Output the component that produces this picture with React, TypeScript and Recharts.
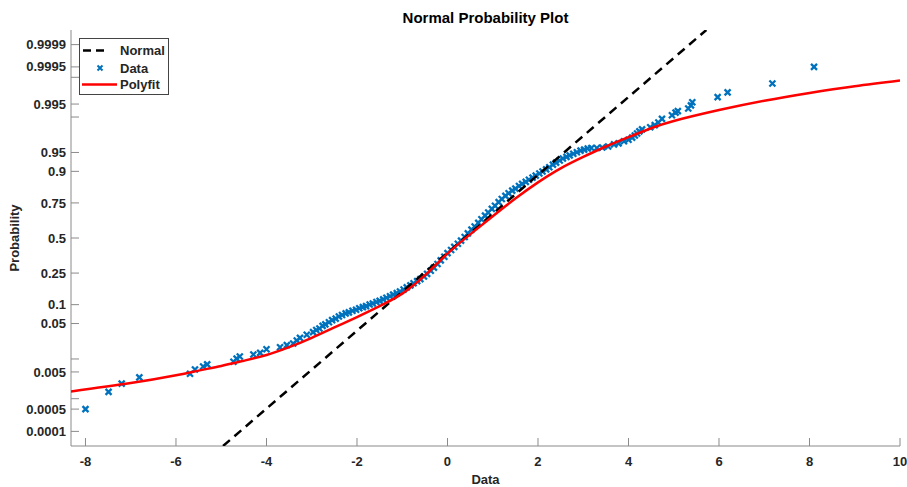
import { ScatterChart, Scatter, XAxis, YAxis, Label } from "recharts";

// probability ticks on the y axis (plotted at their normal quantile)
const probTicks = [
  0.0001, 0.0005, 0.001, 0.005, 0.01, 0.05, 0.1, 0.25, 0.5, 0.75, 0.9, 0.95,
  0.99, 0.995, 0.999, 0.9995, 0.9999,
];
const probLabels = [
  "0.0001", "0.0005", "", "0.005", "", "0.05", "0.1", "0.25", "0.5", "0.75",
  "0.9", "0.95", "", "0.995", "", "0.9995", "0.9999",
];
const xTicks = [-8, -6, -4, -2, 0, 2, 4, 6, 8, 10];

// sample points: [data value, normal quantile]
const dataPoints: [number, number][] = [
  [-8.0, -3.29], [-7.49, -2.96], [-7.2, -2.8], [-6.81, -2.68], [-5.69, -2.61],
  [-5.58, -2.53], [-5.4, -2.47], [-5.31, -2.43], [-4.73, -2.38], [-4.66, -2.32],
  [-4.59, -2.28], [-4.29, -2.24], [-4.14, -2.21], [-4.0, -2.14], [-3.7, -2.1],
  [-3.55, -2.06], [-3.41, -2.03], [-3.33, -1.97], [-3.26, -1.92], [-3.11, -1.86],
  [-2.97, -1.81], [-2.9, -1.77], [-2.83, -1.74], [-2.76, -1.69], [-2.7, -1.66],
  [-2.62, -1.62], [-2.55, -1.58], [-2.47, -1.55], [-2.4, -1.51], [-2.33, -1.48],
  [-2.25, -1.45], [-2.18, -1.43], [-2.1, -1.4], [-2.02, -1.38], [-1.95, -1.35],
  [-1.87, -1.33], [-1.8, -1.31], [-1.72, -1.28], [-1.65, -1.26], [-1.57, -1.23],
  [-1.5, -1.21], [-1.42, -1.18], [-1.35, -1.15], [-1.27, -1.12], [-1.2, -1.09],
  [-1.12, -1.06], [-1.05, -1.03], [-0.97, -0.99], [-0.9, -0.95], [-0.82, -0.91],
  [-0.75, -0.87], [-0.67, -0.83], [-0.6, -0.79], [-0.52, -0.74], [-0.45, -0.69],
  [-0.37, -0.63], [-0.3, -0.57], [-0.22, -0.5], [-0.15, -0.43], [-0.07, -0.36],
  [0.0, -0.29], [0.08, -0.23], [0.15, -0.17], [0.23, -0.11], [0.3, -0.05],
  [0.38, 0.02], [0.45, 0.09], [0.53, 0.16], [0.6, 0.22], [0.68, 0.29],
  [0.75, 0.36], [0.83, 0.43], [0.9, 0.49], [0.98, 0.56], [1.05, 0.62],
  [1.13, 0.69], [1.2, 0.75], [1.28, 0.81], [1.35, 0.86], [1.43, 0.91],
  [1.5, 0.95], [1.58, 1.0], [1.65, 1.04], [1.73, 1.08], [1.8, 1.12],
  [1.88, 1.16], [1.95, 1.2], [2.03, 1.24], [2.1, 1.28], [2.18, 1.32],
  [2.25, 1.36], [2.33, 1.41], [2.4, 1.45], [2.48, 1.49], [2.55, 1.53],
  [2.63, 1.56], [2.7, 1.59], [2.78, 1.62], [2.86, 1.65], [2.94, 1.68],
  [3.02, 1.7], [3.1, 1.72], [3.18, 1.73], [3.3, 1.73], [3.42, 1.74],
  [3.55, 1.76], [3.68, 1.8], [3.78, 1.82], [3.9, 1.86], [4.0, 1.89],
  [4.08, 1.93], [4.14, 1.97], [4.19, 2.01], [4.24, 2.05], [4.3, 2.09],
  [4.48, 2.13], [4.58, 2.17], [4.66, 2.22], [4.74, 2.29], [4.96, 2.36],
  [5.04, 2.41], [5.09, 2.44], [5.32, 2.49], [5.38, 2.55], [5.41, 2.61],
  [5.97, 2.71], [6.19, 2.8], [7.18, 2.97], [8.1, 3.29],
];

// reference normal line end points
const normalLine: [number, number][] = [
  [-4.96, -4],
  [5.72, 4],
];

// fitted curve, read along its length
const polyfitLine: [number, number][] = [
  [-8.32, -2.95], [-7, -2.79], [-6, -2.64], [-5.5, -2.55], [-5, -2.46],
  [-4.5, -2.36], [-4, -2.25], [-3.5, -2.1], [-3, -1.92], [-2.5, -1.72],
  [-2, -1.52], [-1.5, -1.31], [-1, -1.07], [-0.5, -0.72], [0, -0.3],
  [0.5, 0.07], [1, 0.42], [1.5, 0.76], [2, 1.07], [2.5, 1.34], [3, 1.56],
  [3.5, 1.76], [4, 1.94], [4.5, 2.11], [5, 2.25], [6, 2.46], [7, 2.64],
  [8, 2.79], [9, 2.92], [10, 3.03],
];

const W = 907;
const H = 487;
const PLOT_LEFT = 71;
const PLOT_TOP = 30;
const PLOT_BOTTOM = 446;
const AXIS = "#8a8a8a";
const TEXT = "#262626";
const BLUE = "#0072BD";
const FONT = "'Liberation Sans', Arial, sans-serif";

function norminv(p: number) {
  const a = [-39.69683028665376, 220.9460984245205, -275.9285104469687, 138.357751867269, -30.66479806614716, 2.506628277459239];
  const b = [-54.47609879822406, 161.5858368580409, -155.6989798598866, 66.80131188771972, -13.28068155288572];
  const c = [-0.007784894002430293, -0.3223964580411365, -2.400758277161838, -2.549732539343734, 4.374664141464968, 2.938163982698783];
  const d = [0.007784695709041462, 0.3224671290700398, 2.445134137142996, 3.754408661907416];
  const plow = 0.02425;
  if (p < plow) {
    const q = Math.sqrt(-2 * Math.log(p));
    return (((((c[0] * q + c[1]) * q + c[2]) * q + c[3]) * q + c[4]) * q + c[5]) /
      ((((d[0] * q + d[1]) * q + d[2]) * q + d[3]) * q + 1);
  }
  if (p > 1 - plow) {
    const q = Math.sqrt(-2 * Math.log(1 - p));
    return -(((((c[0] * q + c[1]) * q + c[2]) * q + c[3]) * q + c[4]) * q + c[5]) /
      ((((d[0] * q + d[1]) * q + d[2]) * q + d[3]) * q + 1);
  }
  const q = p - 0.5;
  const r = q * q;
  return ((((((a[0] * r + a[1]) * r + a[2]) * r + a[3]) * r + a[4]) * r + a[5]) * q) /
    (((((b[0] * r + b[1]) * r + b[2]) * r + b[3]) * r + b[4]) * r + 1);
}

const zTicks = probTicks.map(norminv);

const toRows = (pts: [number, number][]) => pts.map(([x, z]) => ({ x, z }));

function Cross({ cx, cy }: { cx?: number; cy?: number }) {
  if (cx == null || cy == null) return null;
  const s = 3;
  return (
    <path
      d={`M${cx - s},${cy - s}L${cx + s},${cy + s}M${cx - s},${cy + s}L${cx + s},${cy - s}`}
      stroke={BLUE}
      strokeWidth={2.3}
      fill="none"
    />
  );
}

function YTick({ y, payload }: any) {
  const i = zTicks.findIndex((t) => Math.abs(t - payload.value) < 1e-6);
  const label = i >= 0 ? probLabels[i] : "";
  return (
    <g>
      <line x1={PLOT_LEFT} x2={PLOT_LEFT + 8} y1={y} y2={y} stroke={AXIS} strokeWidth={1} />
      <text x={PLOT_LEFT - 5} y={y} dy={4.6} textAnchor="end" fontSize={13} fontWeight="bold" fill={TEXT} fontFamily={FONT}>
        {label}
      </text>
    </g>
  );
}

function XTick({ x, payload }: any) {
  return (
    <g>
      <line x1={x} x2={x} y1={PLOT_BOTTOM} y2={PLOT_BOTTOM - 8} stroke={AXIS} strokeWidth={1} />
      <text x={x} y={PLOT_BOTTOM + 20} textAnchor="middle" fontSize={13} fontWeight="bold" fill={TEXT} fontFamily={FONT}>
        {payload.value}
      </text>
    </g>
  );
}

function LegendBox() {
  return (
    <div
      style={{
        position: "absolute",
        left: 79,
        top: 38,
        width: 88,
        height: 55,
        border: "1px solid #444",
        background: "#fff",
      }}
    >
      <svg width={88} height={55} style={{ display: "block" }}>
        <line x1={3} x2={29} y1={11.5} y2={11.5} stroke="#000" strokeWidth={2.5} strokeDasharray="8 5" />
        <path d="M17.5,26.5L22.5,31.5M17.5,31.5L22.5,26.5" stroke={BLUE} strokeWidth={2} />
        <line x1={2} x2={37} y1={45.5} y2={45.5} stroke="#ff0000" strokeWidth={2.5} />
        <g fontSize={13} fontWeight="bold" fill={TEXT} fontFamily={FONT}>
          <text x={40} y={16}>Normal</text>
          <text x={40} y={33.5}>Data</text>
          <text x={40} y={50}>Polyfit</text>
        </g>
      </svg>
    </div>
  );
}

export default function App() {
  return (
    <div style={{ position: "absolute", left: 0, top: 0, width: W, height: H, background: "#fff" }}>
      <div
        style={{
          position: "absolute",
          left: PLOT_LEFT,
          width: 829,
          top: 9,
          textAlign: "center",
          fontFamily: FONT,
          fontWeight: "bold",
          fontSize: 15,
          color: "#000",
        }}
      >
        Normal Probability Plot
      </div>
      <ScatterChart width={W} height={H} margin={{ top: PLOT_TOP, right: 7, bottom: 0, left: 0 }}>
        <XAxis
          type="number"
          dataKey="x"
          domain={[-8.32, 10]}
          ticks={xTicks}
          allowDataOverflow
          height={41}
          axisLine={{ stroke: AXIS }}
          tickLine={false}
          tick={<XTick />}
          interval={0}
        >
          <Label
            content={() => (
              <text x={485.5} y={484} textAnchor="middle" fontSize={13} fontWeight="bold" fill={TEXT} fontFamily={FONT}>
                Data
              </text>
            )}
          />
        </XAxis>
        <YAxis
          type="number"
          dataKey="z"
          domain={[-4, 4]}
          ticks={zTicks}
          allowDataOverflow
          width={PLOT_LEFT}
          axisLine={{ stroke: AXIS }}
          tickLine={false}
          tick={<YTick />}
          interval={0}
        >
          <Label
            content={() => (
              <text
                x={19}
                y={238}
                transform="rotate(-90 19 238)"
                textAnchor="middle"
                fontSize={13}
                fontWeight="bold"
                fill={TEXT}
                fontFamily={FONT}
              >
                Probability
              </text>
            )}
          />
        </YAxis>
        <Scatter data={toRows(dataPoints)} shape={<Cross />} isAnimationActive={false} />
        <Scatter
          data={toRows(normalLine)}
          line={{ stroke: "#000", strokeWidth: 2.5, strokeDasharray: "9 6" }}
          shape={() => <g />}
          isAnimationActive={false}
        />
        <Scatter
          data={toRows(polyfitLine)}
          line={{ stroke: "#ff0000", strokeWidth: 2.5 }}
          lineJointType="natural"
          shape={() => <g />}
          isAnimationActive={false}
        />
      </ScatterChart>
      <LegendBox />
    </div>
  );
}
